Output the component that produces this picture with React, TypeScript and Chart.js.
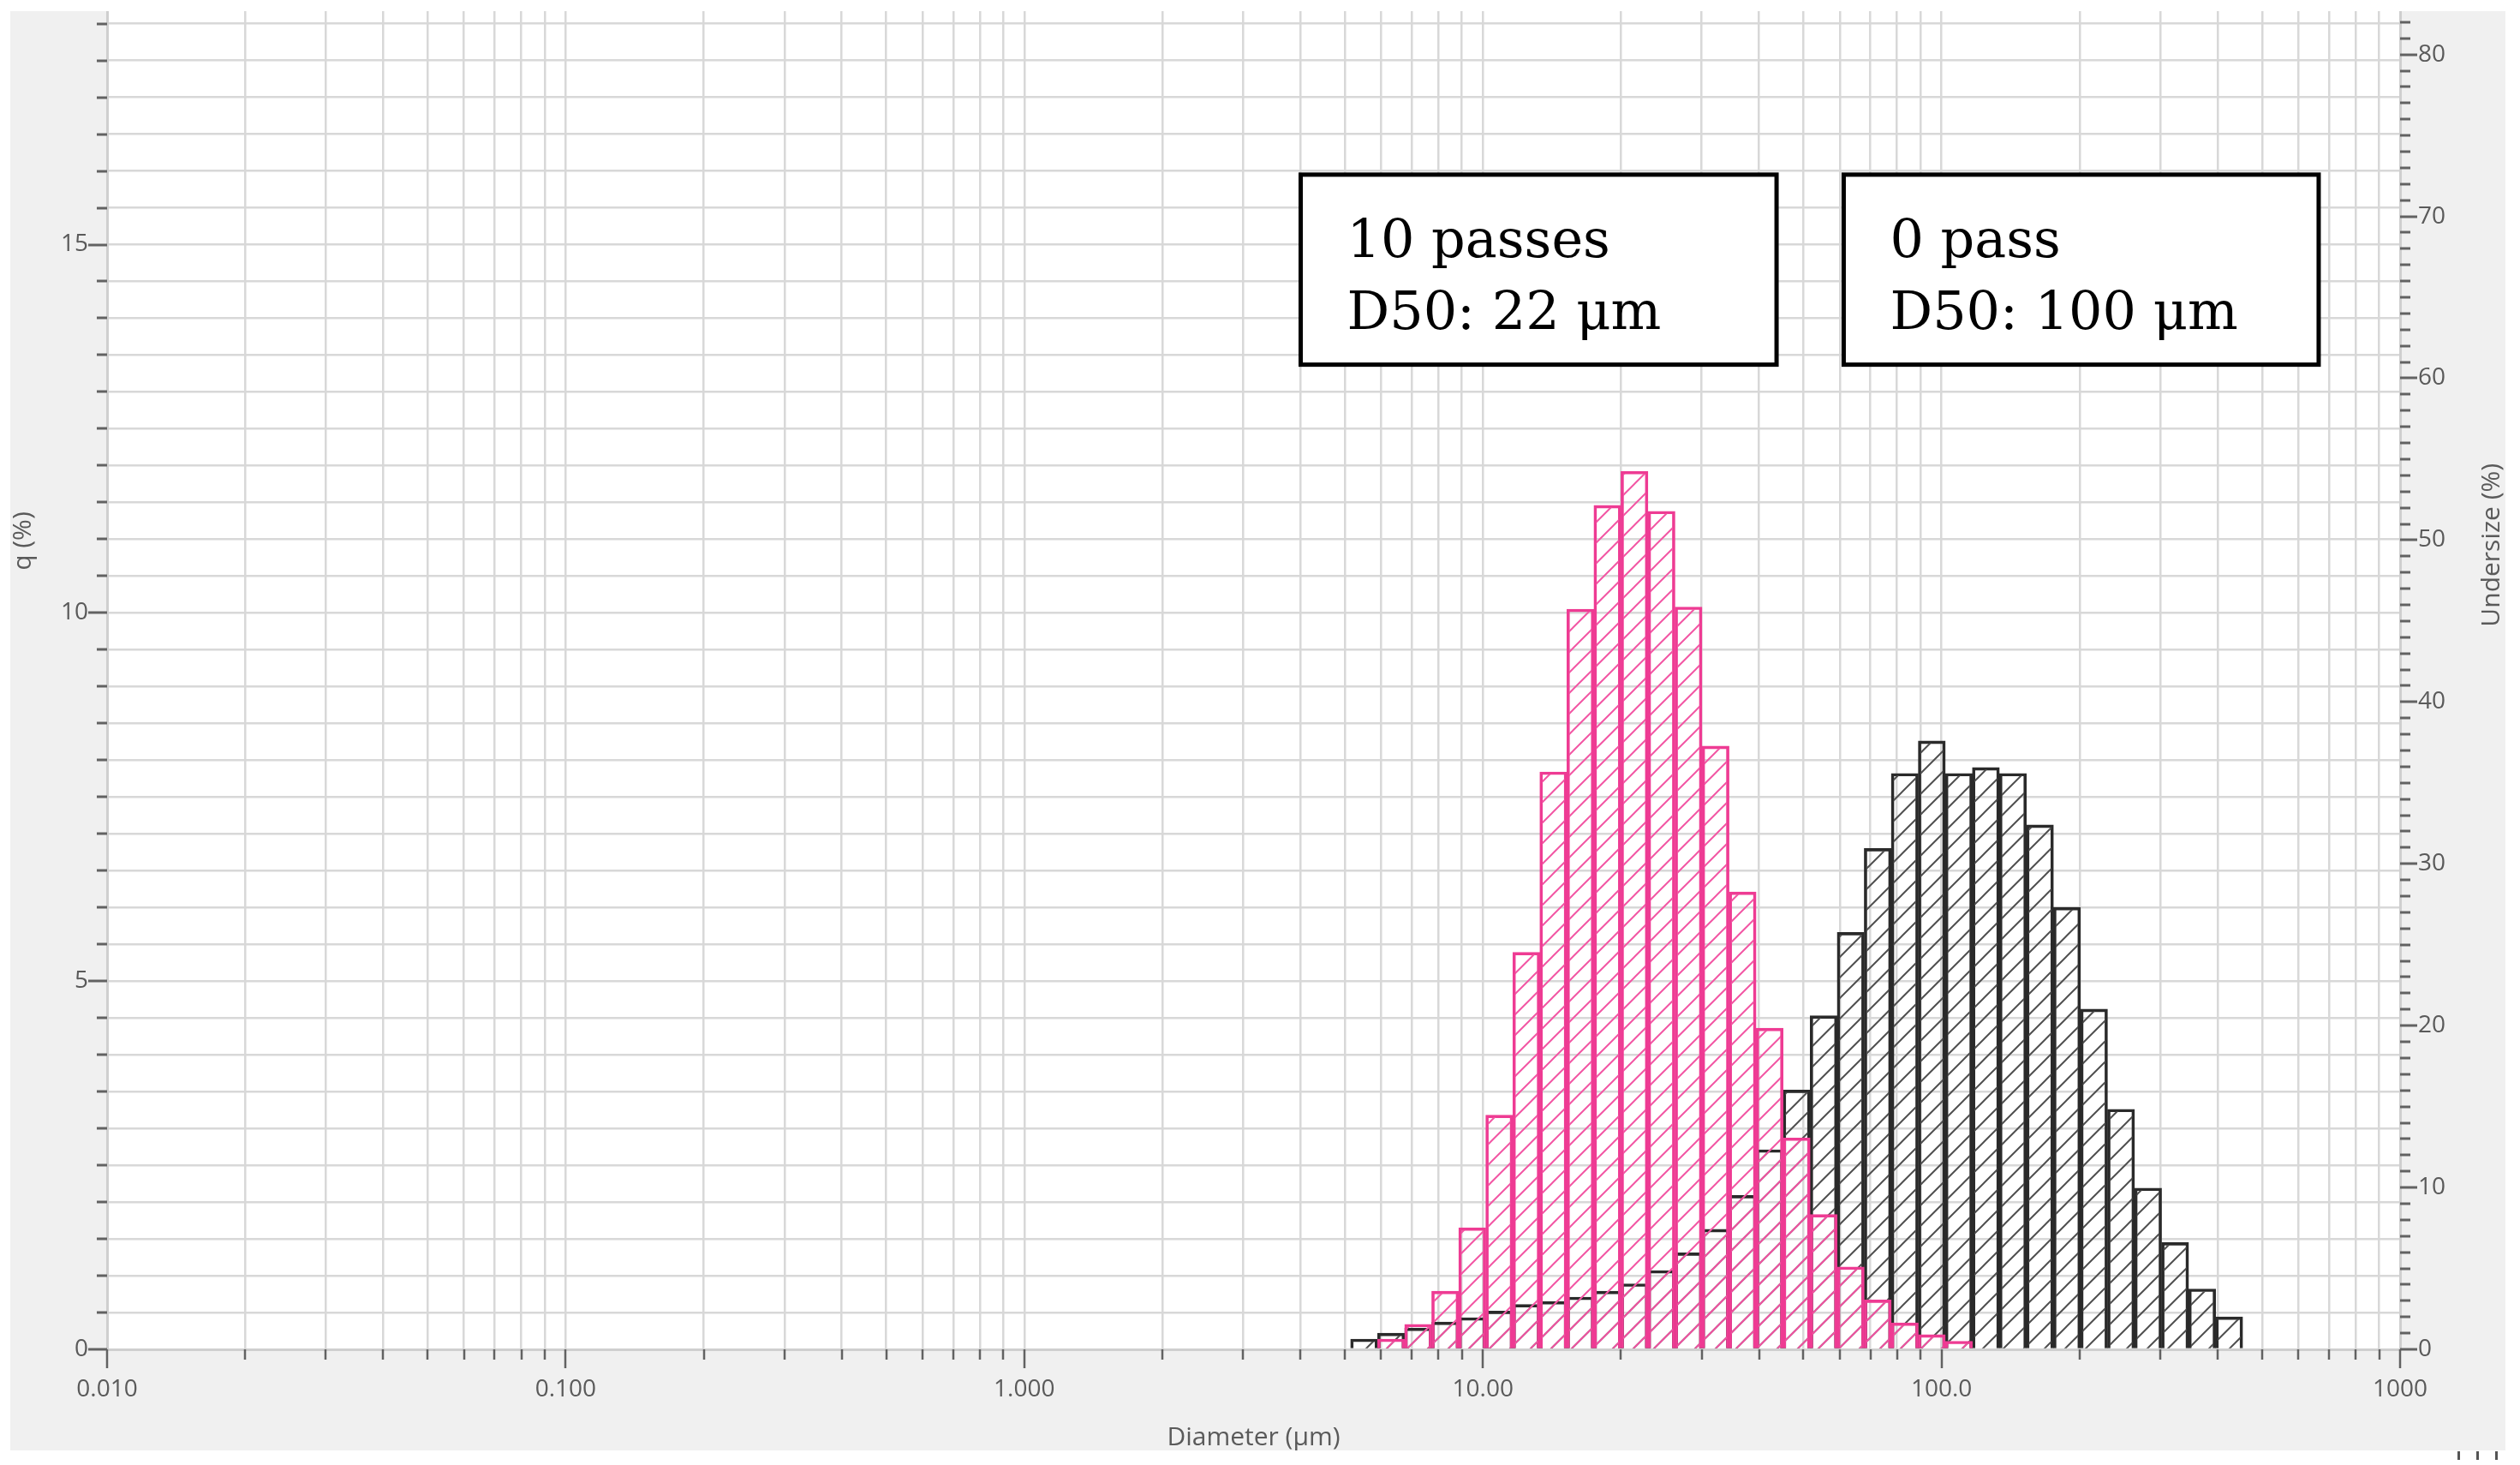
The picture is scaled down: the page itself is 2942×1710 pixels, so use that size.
import React, { useEffect, useRef } from 'react';
import { Chart, registerables } from 'chart.js';

Chart.register(...registerables);

// Particle-size channel edges (μm) of the analyser, covering the measured range
const binEdges = [
  5.1471, 5.8953, 6.7523, 7.7339, 8.8583, 10.146, 11.621, 13.31, 15.245, 17.462,
  20.0, 22.908, 26.238, 30.052, 34.421, 39.424, 45.156, 51.72, 59.239, 67.85,
  77.714, 89.012, 101.95, 116.77, 133.75, 153.19, 175.46, 200.97, 230.18, 263.65,
  301.97, 345.87, 396.15, 453.74,
];

// q (%) per channel
const q10Passes: (number | null)[] = [
  null, 0.14, 0.34, 0.79, 1.65, 3.18, 5.39, 7.84, 10.05, 11.46,
  11.92, 11.38, 10.08, 8.19, 6.21, 4.36, 2.87, 1.83, 1.12, 0.67,
  0.36, 0.2, 0.11, null, null, null, null, null, null, null,
  null, null, null,
];
const q0Pass: (number | null)[] = [
  0.14, 0.22, 0.29, 0.37, 0.43, 0.52, 0.61, 0.65, 0.71, 0.79,
  0.89, 1.07, 1.31, 1.63, 2.09, 2.71, 3.52, 4.53, 5.66, 6.8,
  7.82, 8.26, 7.82, 7.9, 7.82, 7.12, 6.0, 4.62, 3.26, 2.19,
  1.45, 0.82, 0.44,
];

const seriesNames = ['10 passes', '0 pass'];
const boxLines = [
  ['10 passes', 'D50: 22 μm'],
  ['0 pass', 'D50: 100 μm'],
];

const xTickValues = [0.01, 0.1, 1, 10, 100, 1000];
const xTickLabels = ['0.010', '0.100', '1.000', '10.00', '100.0', '1000'];
const yLeftTickValues = [0, 5, 10, 15];
const yLeftTickLabels = ['0', '5', '10', '15'];
const yRightTickValues = [0, 10, 20, 30, 40, 50, 60, 70, 80];
const yRightTickLabels = ['0', '10', '20', '30', '40', '50', '60', '70', '80'];

const xTitle = 'Diameter (μm)';
const yTitle = 'q (%)';
const y1Title = 'Undersize (%)';

const LABEL_FONT = '"Open Sans", "Noto Sans", sans-serif';
const LABEL_COLOR = '#5a5a5a';
const GRID_COLOR = '#d8d8d8';
const BORDER_COLOR = '#cfcfcf';

function makeHatch(color: string, width: number, size: number) {
  const c = document.createElement('canvas');
  c.width = size;
  c.height = size;
  const g = c.getContext('2d')!;
  g.strokeStyle = color;
  g.lineWidth = width;
  g.beginPath();
  g.moveTo(0, size);
  g.lineTo(size, 0);
  g.moveTo(-size / 2, size / 2);
  g.lineTo(size / 2, -size / 2);
  g.moveTo(size / 2, size * 1.5);
  g.lineTo(size * 1.5, size / 2);
  g.stroke();
  return g.createPattern(c, 'repeat')!;
}

const near = (a: number, b: number) => Math.abs(a - b) <= Math.abs(b) * 1e-6 + 1e-9;

const plotBackground = {
  id: 'plotBackground',
  beforeDraw(chart: any) {
    const { ctx, chartArea: a } = chart;
    ctx.save();
    ctx.fillStyle = '#ffffff';
    ctx.fillRect(a.left, a.top, a.right - a.left, a.bottom - a.top);
    ctx.restore();
  },
};

const tickMarks = {
  id: 'tickMarks',
  afterDraw(chart: any) {
    const { ctx, chartArea: a, scales } = chart;
    ctx.save();
    ctx.strokeStyle = '#626262';
    const line = (x1: number, y1: number, x2: number, y2: number, w: number) => {
      ctx.lineWidth = w;
      ctx.beginPath();
      ctx.moveTo(x1, y1);
      ctx.lineTo(x2, y2);
      ctx.stroke();
    };
    scales.x.ticks.forEach((t: any) => {
      const px = Math.round(scales.x.getPixelForValue(t.value));
      const major = xTickValues.some((v) => near(t.value, v));
      line(px, a.bottom, px, a.bottom + (major ? 22 : 12), 2.5);
    });
    scales.y.ticks.forEach((t: any) => {
      const py = Math.round(scales.y.getPixelForValue(t.value));
      const major = yLeftTickValues.some((v) => near(t.value, v));
      line(a.left - (major ? 22 : 12), py, a.left, py, 3);
    });
    scales.y1.ticks.forEach((t: any) => {
      const py = Math.round(scales.y1.getPixelForValue(t.value));
      const major = yRightTickValues.some((v) => near(t.value, v));
      line(a.right, py, a.right + (major ? 20 : 12), py, 3);
    });
    ctx.restore();
  },
};

const sideTitles = {
  id: 'sideTitles',
  afterDraw(chart: any) {
    const { ctx, chartArea: a, width } = chart;
    ctx.save();
    ctx.font = `30px ${LABEL_FONT}`;
    ctx.fillStyle = LABEL_COLOR;
    ctx.textAlign = 'center';
    ctx.textBaseline = 'middle';
    const h = a.bottom - a.top;
    ctx.save();
    ctx.translate(15, a.top + h * 0.396);
    ctx.rotate(-Math.PI / 2);
    ctx.fillText(yTitle, 0, 0);
    ctx.restore();
    ctx.save();
    ctx.translate(width - 16, a.top + h * 0.399);
    ctx.rotate(-Math.PI / 2);
    ctx.fillText(y1Title, 0, 0);
    ctx.restore();
    ctx.restore();
  },
};

const d50Boxes = {
  id: 'd50Boxes',
  afterDatasetsDraw(chart: any, _args: any, opts: any) {
    const { ctx, scales } = chart;
    const xs = scales.x;
    const ys = scales.y;
    ctx.save();
    (opts.boxes || []).forEach((b: any, i: number) => {
      const x1 = xs.getPixelForValue(b.x0);
      const x2 = xs.getPixelForValue(b.x1);
      const y1 = ys.getPixelForValue(b.y1);
      const y2 = ys.getPixelForValue(b.y0);
      ctx.fillStyle = '#ffffff';
      ctx.fillRect(x1, y1, x2 - x1, y2 - y1);
      ctx.lineWidth = 5;
      ctx.strokeStyle = '#000000';
      ctx.strokeRect(x1, y1, x2 - x1, y2 - y1);
      ctx.fillStyle = '#000000';
      ctx.font = '62px "DejaVu Serif", "Liberation Serif", serif';
      ctx.textAlign = 'left';
      ctx.textBaseline = 'alphabetic';
      boxLines[i].forEach((txt, j) => {
        ctx.fillText(txt, x1 + 54, y1 + 96 + j * 84);
      });
    });
    ctx.restore();
  },
};

export default function App() {
  const ref = useRef<HTMLCanvasElement>(null);

  useEffect(() => {
    const canvas = ref.current!;
    const pinkHatch = makeHatch('#f257a4', 2, 24);
    const blackHatch = makeHatch('#505050', 2, 24);
    const centers = binEdges.slice(0, -1).map((e, i) => Math.sqrt(e * binEdges[i + 1]));

    const xGridValues: number[] = [];
    for (let d = 0; d < xTickValues.length - 1; d++) {
      for (let k = 1; k <= 9; k++) xGridValues.push(Number((k * xTickValues[d]).toPrecision(6)));
    }
    xGridValues.push(xTickValues[xTickValues.length - 1]);

    const chart = new Chart(canvas, {
      type: 'bar',
      data: {
        datasets: [
          {
            label: seriesNames[0],
            data: centers.map((x, i) => ({ x, y: q10Passes[i] })) as any,
            backgroundColor: pinkHatch as any,
            borderColor: '#ee3b93',
            borderWidth: 3,
            xAxisID: 'xb',
            yAxisID: 'y',
            grouped: false,
            barPercentage: 1,
            categoryPercentage: 1,
          },
          {
            label: seriesNames[1],
            data: centers.map((x, i) => ({ x, y: q0Pass[i] })) as any,
            backgroundColor: blackHatch as any,
            borderColor: '#2a2a2a',
            borderWidth: 3,
            xAxisID: 'xb',
            yAxisID: 'y',
            grouped: false,
            barPercentage: 1,
            categoryPercentage: 1,
          },
        ],
      },
      options: {
        responsive: false,
        animation: false,
        devicePixelRatio: 1,
        layout: { padding: 0, autoPadding: false },
        plugins: {
          legend: { display: false },
          tooltip: { enabled: false },
          d50Boxes: {
            boxes: [
              { x0: 4.006, x1: 43.69, y0: 13.37, y1: 15.95 },
              { x0: 61.21, x1: 664.5, y0: 13.37, y1: 15.95 },
            ],
          },
        } as any,
        scales: {
          xb: {
            type: 'logarithmic',
            display: false,
            offset: false,
            grid: { offset: false },
            min: xTickValues[0],
            max: xTickValues[xTickValues.length - 1],
            afterBuildTicks: (s: any) => {
              s.ticks = [{ value: xTickValues[0] }, { value: xTickValues[xTickValues.length - 1] }];
            },
          },
          x: {
            type: 'logarithmic',
            position: 'bottom',
            offset: false,
            min: xTickValues[0],
            max: xTickValues[xTickValues.length - 1],
            bounds: 'data',
            afterBuildTicks: (s: any) => {
              s.ticks = xGridValues.map((v) => ({ value: v, major: false }));
            },
            afterFit: (s: any) => {
              s.height = 118;
              s.paddingLeft = 0;
              s.paddingRight = 0;
              s.paddingTop = 0;
              s.paddingBottom = 0;
            },
            grid: { color: GRID_COLOR, lineWidth: 2.5, drawTicks: false, offset: false },
            border: { color: BORDER_COLOR, width: 3 },
            ticks: {
              autoSkip: false,
              maxRotation: 0,
              minRotation: 0,
              padding: 30,
              color: LABEL_COLOR,
              font: { family: LABEL_FONT, size: 28 },
              callback: (v: any) => {
                const i = xTickValues.findIndex((t) => near(Number(v), t));
                return i >= 0 ? xTickLabels[i] : '';
              },
            },
            title: {
              display: true,
              text: xTitle,
              color: LABEL_COLOR,
              font: { family: LABEL_FONT, size: 30, lineHeight: 1 },
              padding: 0,
            },
          },
          y: {
            type: 'linear',
            position: 'left',
            min: 0,
            max: 18.17,
            bounds: 'data',
            afterBuildTicks: (s: any) => {
              const t: any[] = [];
              for (let i = 0; i <= 36; i++) t.push({ value: i * 0.5 });
              s.ticks = t;
            },
            afterFit: (s: any) => {
              s.width = 113;
              s.paddingTop = 0;
              s.paddingBottom = 0;
              s.paddingLeft = 0;
              s.paddingRight = 0;
            },
            grid: { color: GRID_COLOR, lineWidth: 2.5, drawTicks: false },
            border: { color: BORDER_COLOR, width: 3 },
            ticks: {
              autoSkip: false,
              padding: 22,
              color: LABEL_COLOR,
              font: { family: LABEL_FONT, size: 28 },
              callback: (v: any) => {
                const i = yLeftTickValues.findIndex((t) => near(Number(v), t));
                return i >= 0 ? yLeftTickLabels[i] : '';
              },
            },
          },
          y1: {
            type: 'linear',
            position: 'right',
            min: 0,
            max: 82.68,
            bounds: 'data',
            afterBuildTicks: (s: any) => {
              const t: any[] = [];
              for (let i = 0; i <= 82; i++) t.push({ value: i });
              s.ticks = t;
            },
            afterFit: (s: any) => {
              s.width = 123;
              s.paddingTop = 0;
              s.paddingBottom = 0;
              s.paddingLeft = 0;
              s.paddingRight = 0;
            },
            grid: { drawOnChartArea: false, drawTicks: false },
            border: { color: BORDER_COLOR, width: 3 },
            ticks: {
              autoSkip: false,
              padding: 21,
              color: LABEL_COLOR,
              font: { family: LABEL_FONT, size: 28 },
              callback: (v: any) => {
                const i = yRightTickValues.findIndex((t) => near(Number(v), t));
                return i >= 0 ? yRightTickLabels[i] : '';
              },
            },
          },
        } as any,
      },
      plugins: [plotBackground, tickMarks, sideTitles, d50Boxes],
    });
    return () => chart.destroy();
  }, []);

  return (
    <>
      <div
        style={{
          position: 'absolute',
          left: 12,
          top: 13,
          width: 2913,
          height: 1680,
          background: '#f0f0f0',
        }}
      >
        <canvas ref={ref} width={2913} height={1680} style={{ display: 'block' }} />
      </div>
      {[2869, 2891, 2913].map((x) => (
        <div
          key={x}
          style={{
            position: 'absolute',
            left: x,
            top: 1694,
            width: 3,
            height: 10,
            background: '#555',
          }}
        />
      ))}
    </>
  );
}
